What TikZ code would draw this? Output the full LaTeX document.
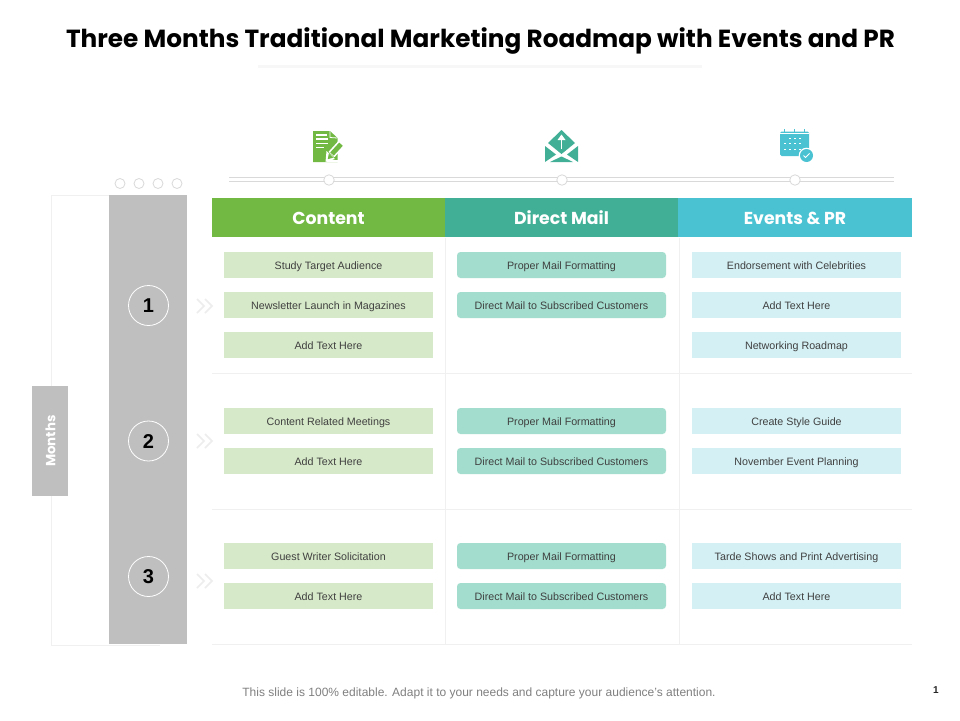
\documentclass[tikz,border=0pt]{standalone}
\usepackage{fontspec}
\setmainfont{Liberation Sans}
\newfontfamily\headfont{Poppins}
\definecolor{cgreen}{HTML}{72B944}
\definecolor{cteal}{HTML}{41AF95}
\definecolor{cblue}{HTML}{4AC2D2}
\definecolor{lgreen}{HTML}{D6E9C8}
\definecolor{lteal}{HTML}{A2DDCD}
\definecolor{lblue}{HTML}{D4F0F4}
\definecolor{band}{HTML}{BFBFBF}
\definecolor{gridc}{HTML}{F0F0F0}
\tikzset{
 x=1pt,y=-1pt,
 item/.style={minimum width=209pt,minimum height=26pt,inner sep=0pt,text height=8pt,text depth=0pt,font=\fontsize{10.7}{12}\selectfont,text=black!75},
 itemg/.style={item,fill=lgreen},
 itemt/.style={item,fill=lteal,rounded corners=3.5pt},
 itemb/.style={item,fill=lblue},
 headbox/.style={minimum height=39pt,inner sep=0pt,text height=13.5pt,text depth=0pt,text=white,font=\headfont\fontsize{17.3}{20}\selectfont\bfseries},
 gridl/.style={draw=gridc,line width=0.8pt},
 num/.style={circle,draw=white,line width=0.8pt,minimum size=40pt,inner sep=0pt,text height=14pt,text depth=0pt,font=\fontsize{20}{24}\selectfont\bfseries,text=black},
 dot/.style={circle,draw=black!15,fill=white,line width=0.8pt,minimum size=10.5pt,inner sep=0pt},
 tline/.style={draw=black!15,line width=0.9pt},
 chev/.style={draw=black!7,line width=1.5pt}
}
\begin{document}
\begin{tikzpicture}
\useasboundingbox (0,0) rectangle (960,720);
\fill[white] (0,0) rectangle (960,720);
% title
\node (title) at (480.5,40.5) {\headfont\fontsize{24.75}{30}\selectfont\bfseries Three Months Traditional Marketing Roadmap with Events and PR};
\fill[black!3] (258,65) rectangle (702,68);
% timeline
\coordinate (tl1) at (229,177.5); \coordinate (tr1) at (894,177.5);
\coordinate (tl2) at (229,181); \coordinate (tr2) at (894,181);
\draw[tline] (tl1)--(tr1); \draw[tline] (tl2)--(tr2);
\node[dot] (d1) at (329,180) {};
\node[dot] (d2) at (562,180) {};
\node[dot] (d3) at (795,180) {};
% frame
\coordinate (fa) at (109,195); \coordinate (fb) at (51,195); \coordinate (fc) at (51,645); \coordinate (fd) at (160,645);
\draw[gridl] (fa)--(fb)--(fc)--(fd);
\fill[band] (109,195) rectangle (187,644);
\foreach \x in {120,139,158,177} \draw[black!15,line width=0.8pt,fill=white] (\x,183.5) circle (5);
% months
\node[fill=band,minimum width=36pt,minimum height=110pt,inner sep=0pt] (months) at (50,441) {};
\node[rotate=90,text=white,font=\headfont\fontsize{13.3}{14}\selectfont\bfseries] (monthst) at (50.5,441) {Months};
% grid
\foreach \y in {373,509,644} \draw[gridl] (212,\y)--(912,\y);
\foreach \x in {445,679} \draw[gridl] (\x,238)--(\x,644);
% headers
\node[headbox,fill=cgreen,minimum width=233pt] (h1) at (328.5,217.5) {Content};
\node[headbox,fill=cteal,minimum width=233pt] (h2) at (561.5,217.5) {Direct Mail};
\node[headbox,fill=cblue,minimum width=234pt] (h3) at (795,217.5) {Events \& PR};
% numbers
\node[num] (n1) at (148.5,305.5) {1};
\node[num] (n2) at (148.5,441) {2};
\node[num] (n3) at (148.5,576.5) {3};
% chevrons
\foreach \y in {306,441,581} {
 \draw[chev] (197,\y-7)--(204,\y)--(197,\y+7);
 \draw[chev] (205,\y-7)--(212,\y)--(205,\y+7);
}
% column 1
\node[itemg] (a1) at (328.5,265) {Study Target Audience};
\node[itemg] (a2) at (328.5,305) {Newsletter Launch in Magazines};
\node[itemg] (a3) at (328.5,345) {Add Text Here};
\node[itemg] (a4) at (328.5,421) {Content Related Meetings};
\node[itemg] (a5) at (328.5,461) {Add Text Here};
\node[itemg] (a6) at (328.5,556) {Guest Writer Solicitation};
\node[itemg] (a7) at (328.5,596) {Add Text Here};
% column 2
\node[itemt] (b1) at (561.5,265) {Proper Mail Formatting};
\node[itemt] (b2) at (561.5,305) {Direct Mail to Subscribed Customers};
\node[itemt] (b4) at (561.5,421) {Proper Mail Formatting};
\node[itemt] (b5) at (561.5,461) {Direct Mail to Subscribed Customers};
\node[itemt] (b6) at (561.5,556) {Proper Mail Formatting};
\node[itemt] (b7) at (561.5,596) {Direct Mail to Subscribed Customers};
% column 3
\node[itemb] (c1) at (796.5,265) {Endorsement with Celebrities};
\node[itemb] (c2) at (796.5,305) {Add Text Here};
\node[itemb] (c3) at (796.5,345) {Networking Roadmap};
\node[itemb] (c4) at (796.5,421) {Create Style Guide};
\node[itemb] (c5) at (796.5,461) {November Event Planning};
\node[itemb] (c6) at (796.5,556) {Tarde Shows and Print Advertising};
\node[itemb] (c7) at (796.5,596) {Add Text Here};
% document icon
\fill[cgreen] (313,131)--(330,131)--(337.5,138)--(337.5,162)--(313,162)--cycle;
\draw[white,line width=0.8pt] (330,131)--(330,137.5)--(337.5,138);
\draw[white,line width=1.2pt] (316,135)--(327,135) (316,139)--(328,139) (316,143.5)--(328,143.5) (316,147.5)--(324,147.5);
\draw[white,line width=8pt] (331.5,154.5)--(341.5,143.5);
\fill[white] (325.5,162)--(326.5,151)--(335,159)--cycle;
\fill[white] (327,161.5) rectangle (337.5,159.8);
\draw[cgreen,line width=4.8pt] (332,154)--(341,144.2);
\fill[cgreen] (327.8,159.2)--(328.8,153.6)--(333.2,157.6)--cycle;
% envelope icon
\fill[cteal] (561.5,130)--(575,143)--(561.5,154)--(548,143)--cycle;
\fill[cteal] (545,146)--(556,154.5)--(545,162)--cycle;
\fill[cteal] (578,146)--(567,154.5)--(578,162)--cycle;
\fill[cteal] (550,162)--(561.5,156.5)--(573,162)--cycle;
\draw[white,line width=1.3pt] (561.5,149)--(561.5,137);
\fill[white] (561.5,134.5)--(565.5,140)--(557.5,140)--cycle;
% calendar icon
\fill[cblue,rounded corners=1.5pt] (780,131.5) rectangle (809,156);
\foreach \x in {784.5,794.5,804} \draw[cblue,line width=1pt] (\x,129)--(\x,134);
\draw[white,line width=0.6pt] (780,133.5)--(809,133.5);
\foreach \y in {138,143,149}
 \foreach \x in {790,795,800} \fill[white] (\x-1,\y-.4) rectangle (\x+1,\y+.4);
\foreach \y in {143,149}
 \foreach \x in {785} \fill[white] (\x-1,\y-.4) rectangle (\x+1,\y+.4);
\fill[white] (806.5,155.5) circle (7.8);
\fill[cblue] (806.5,155.5) circle (6.5);
\draw[white,line width=1pt] (803.5,155.5)--(805.5,157.5)--(809.5,153.5);
% footer
\node[text=black!50,font=\fontsize{12}{14}\selectfont,text height=9pt,text depth=0pt] (foot) at (479,691.5) {This slide is 100\% editable. Adapt it to your needs and capture your audience's attention.};
\node[text=black!85,font=\fontsize{10}{12}\selectfont\bfseries,text height=7pt,text depth=0pt] (page) at (936,689.5) {1};
\end{tikzpicture}
\end{document}
